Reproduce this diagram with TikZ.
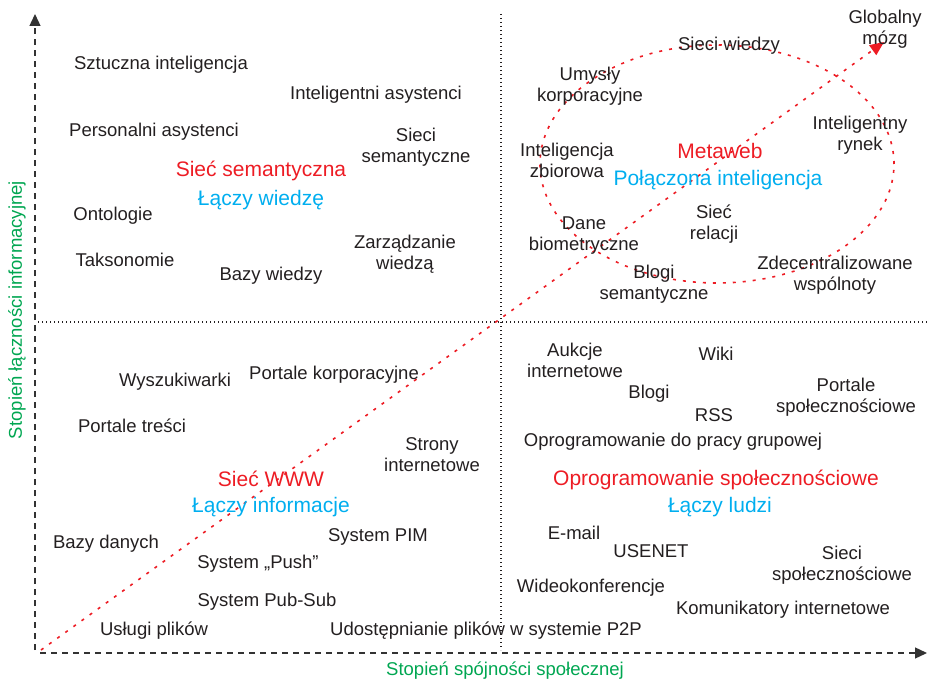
\documentclass[tikz,border=0pt]{standalone}
\usepackage{fontspec}
\setmainfont{Liberation Sans}
\usetikzlibrary{arrows.meta}
\definecolor{czerw}{HTML}{ED1C24}
\definecolor{nieb}{HTML}{00AEEF}
\definecolor{ziel}{HTML}{00A651}
\definecolor{tekst}{HTML}{231F20}
\definecolor{szary}{HTML}{333333}

\begin{document}
\begin{tikzpicture}[x=1pt,y=-1pt,
  hasl/.style={font=\fontsize{18.5}{21}\selectfont,text=tekst,align=center,inner sep=0pt},
  obszar/.style={font=\fontsize{21}{24}\selectfont,text=czerw,inner sep=0pt},
  laczy/.style={obszar,text=nieb},
  opis/.style={font=\fontsize{18.5}{21}\selectfont,text=ziel,inner sep=0pt},
  kropki/.style={czerw,line width=1.6pt,dash pattern=on 3pt off 7pt}]
\useasboundingbox (0,0) rectangle (927,682);
% osie
\coordinate (ydol) at (35,650);
\coordinate (ygora) at (35,14);
\coordinate (xpocz) at (40,653);
\coordinate (xkon) at (927,653);
\draw[szary,line width=1.3pt,dash pattern=on 6pt off 5pt,-{Triangle[length=12pt,width=11pt]}] (ydol) -- (ygora);
\draw[szary,line width=1.3pt,dash pattern=on 6pt off 5pt,-{Triangle[length=12pt,width=11pt]}] (xpocz) -- (xkon);
\node[opis] (osx) at (505,671) {Stopień spójności społecznej};
\node[opis,rotate=90] (osy) at (17,310) {Stopień łączności informacyjnej};
% podzial na cwiartki
\coordinate (pg) at (501,14);  \coordinate (pd) at (501,650);
\coordinate (pl) at (38,322);  \coordinate (pp) at (927,322);
\draw[tekst,line width=1.4pt,dash pattern=on 1.4pt off 2.6pt] (pg) -- (pd) (pl) -- (pp);
% strzalka i elipsa
\coordinate (start) at (41,650);
\coordinate (mozg) at (884,42);
\draw[kropki,-{Triangle[length=14pt,width=12pt]}] (start) -- (mozg);
\draw[kropki] (717,164) ellipse [x radius=177pt,y radius=119pt];
\begin{scope}[yshift=-2pt]
% lewa gora
\node[hasl] (si) at (161,63) {Sztuczna inteligencja};
\node[hasl] (ia) at (376,93) {Inteligentni asystenci};
\node[hasl] (pa) at (154,130) {Personalni asystenci};
\node[hasl] (ss) at (416,145) {Sieci\\semantyczne};
\node[obszar] (sem) at (261,169) {Sieć semantyczna};
\node[laczy] (lw) at (261,198) {Łączy wiedzę};
\node[hasl] (ont) at (113,214) {Ontologie};
\node[hasl] (tak) at (125,258) {Taksonomie};
\node[hasl] (zw) at (405,252) {Zarządzanie\\wiedzą};
\node[hasl] (bw) at (271,274) {Bazy wiedzy};
% prawa gora
\node[hasl] (swi) at (729,44) {Sieci wiedzy};
\node[hasl] (gm) at (885,27) {Globalny\\mózg};
\node[hasl] (uk) at (590,84) {Umysły\\korporacyjne};
\node[hasl] (ir) at (860,133) {Inteligentny\\rynek};
\node[hasl] (iz) at (567,158) {Inteligencja\\zbiorowa};
\node[obszar] (meta) at (720,149) {Metaweb};
\node[laczy] (pi) at (718,178) {Połączona inteligencja};
\node[hasl] (sr) at (714,222) {Sieć\\relacji};
\node[hasl] (db) at (584,234) {Dane\\biometryczne};
\node[hasl] (zdw) at (835,273) {Zdecentralizowane\\wspólnoty};
\node[hasl] (bs) at (654,282) {Blogi\\semantyczne};
% lewy dol
\node[hasl] (wys) at (175,380) {Wyszukiwarki};
\node[hasl] (pk) at (334,373) {Portale korporacyjne};
\node[hasl] (pt) at (132,424) {Portale treści};
\node[hasl] (si2) at (432,453) {Strony\\internetowe};
\node[obszar] (www) at (271,477) {Sieć WWW};
\node[laczy] (li) at (271,505) {Łączy informacje};
\node[hasl] (bd) at (106,542) {Bazy danych};
\node[hasl] (pim) at (378,535) {System PIM};
\node[hasl] (push) at (258,562) {System „Push”};
\node[hasl] (pub) at (267,600) {System Pub-Sub};
\node[hasl] (up) at (154,629) {Usługi plików};
\node[hasl] (p2p) at (486,629) {Udostępnianie plików w systemie P2P};
% prawy dol
\node[hasl] (ai) at (575,358) {Aukcje\\internetowe};
\node[hasl] (wiki) at (716,352) {Wiki};
\node[hasl] (blogi) at (649,392) {Blogi};
\node[hasl] (ps) at (846,395) {Portale\\społecznościowe};
\node[hasl] (rss) at (714,413) {RSS};
\node[hasl] (opg) at (673,440) {Oprogramowanie do pracy grupowej};
\node[obszar] (osp) at (716,478) {Oprogramowanie społecznościowe};
\node[laczy] (ll) at (720,505) {Łączy ludzi};
\node[hasl] (mail) at (574,531) {E-mail};
\node[hasl] (use) at (651,549) {USENET};
\node[hasl] (sps) at (842,563) {Sieci\\społecznościowe};
\node[hasl] (wid) at (591,586) {Wideokonferencje};
\node[hasl] (kom) at (783,608) {Komunikatory internetowe};
\end{scope}
\end{tikzpicture}
\end{document}
